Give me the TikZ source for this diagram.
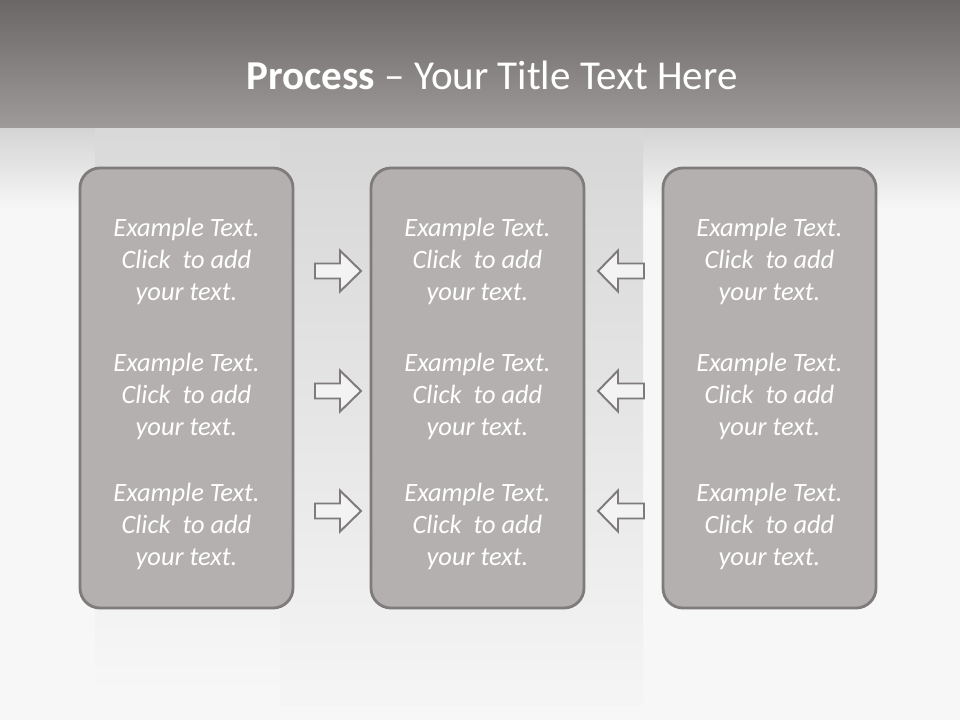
\documentclass[tikz,border=0pt]{standalone}
\usepackage{fontspec}
\setmainfont{Carlito}
\usetikzlibrary{positioning}

\definecolor{bandtop}{HTML}{6A6766}
\definecolor{bandbot}{HTML}{9E9A99}
\definecolor{pagebg}{HTML}{F7F7F7}
\definecolor{boxfill}{HTML}{B4B0AF}
\definecolor{boxline}{HTML}{7E7B7A}
\definecolor{arrowfill}{HTML}{F3F3F3}

\newcommand{\exampletext}{Example Text.\\Click \ to add\\your text.}

\tikzset{
  colbox/.style={draw=boxline, line width=2pt, fill=boxfill, rounded corners=5mm,
    minimum width=53.25mm, minimum height=110mm},
  boxtext/.style={text=white, align=center, font=\fontsize{18.8}{22.8}\selectfont\itshape},
  blockarrow/.style={draw=boxline, line width=1.4pt, fill=arrowfill}
}

\begin{document}
\begin{tikzpicture}[x=0.25mm, y=-0.25mm]
	\useasboundingbox (0,0) rectangle (960,720);
	% background
	\fill[pagebg] (0,0) rectangle (960,720);
	\shade[top color=black!17, bottom color=pagebg] (0,127) rectangle (960,210);
	\shade[top color=black!15, bottom color=black!3] (95,127) rectangle (280,700);
	\shade[top color=black!16, bottom color=black!4] (280,127) rectangle (643,705);
	\shade[top color=bandtop, bottom color=bandbot] (0,0) rectangle (960,127);

	\node[text=white, font=\fontsize{29.2}{34}\selectfont] (title) at (492,75) {\textbf{Process} – Your Title Text Here};

	% the three columns
	\node[colbox] (left) at (186.5,388) {};
	\node[colbox] (middle) at (477.5,388) {};
	\node[colbox] (right) at (769.5,388) {};

	\foreach \col/\x in {l/186.5, m/477.5, r/769.5} {
		\foreach \row/\y in {1/261, 2/396, 3/526} {
			\node[boxtext] (\col\row) at (\x,\y) {\exampletext};
		}
	}

	% arrows into the middle column
	\foreach \y in {271,391,511} {
		\draw[blockarrow] (315,\y-7.5) -- (340,\y-7.5) -- (340,\y-20.5) -- (361,\y)
			-- (340,\y+20.5) -- (340,\y+7.5) -- (315,\y+7.5) -- cycle;
		\draw[blockarrow] (644,\y-7.5) -- (618,\y-7.5) -- (618,\y-20.5) -- (598,\y)
			-- (618,\y+20.5) -- (618,\y+7.5) -- (644,\y+7.5) -- cycle;
	}
\end{tikzpicture}
\end{document}
